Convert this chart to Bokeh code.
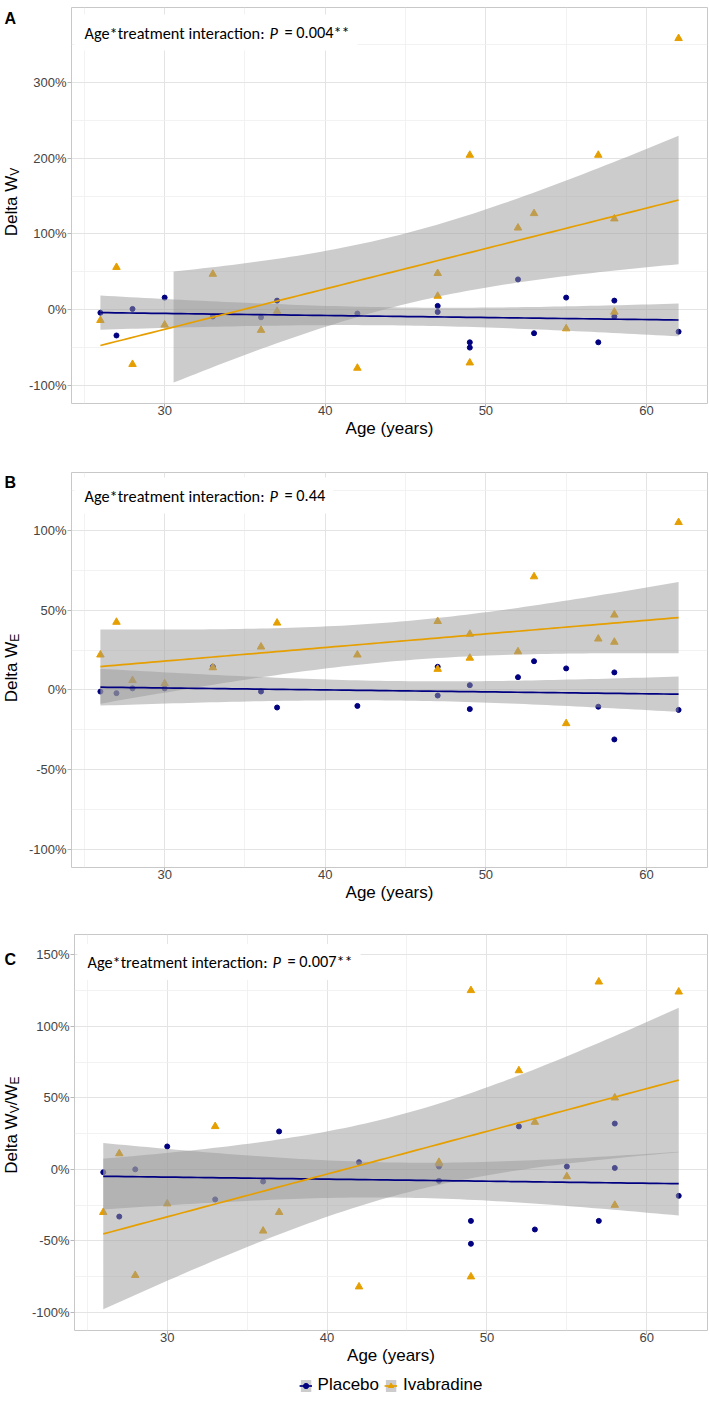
import numpy as np
from bokeh.plotting import figure
from bokeh.layouts import column, row
from bokeh.models import Range1d, FixedTicker, PrintfTickFormatter, Label, Legend, LegendItem
from bokeh.embed import file_html
from bokeh.resources import INLINE

# ---------------- data ----------------
age = [26, 27, 28, 30, 33, 36, 37, 42, 47, 47, 49, 49, 52, 53, 55, 57, 58, 58, 62]

wv_placebo = [-4, -34, 1, 16, -9, -10, 12, -5, 5, -3, -43, -50, 40, -31, 16, -43, 12, -9, -29]
wv_ivabradine = [-14, 56, -72, -20, 47, -27, -2, -77, 48, 18, 204, -70, 108, 127, -25, 204, 120, -3, 358]

we_placebo = [-1, -2, 1, 1, 14.5, -1, -11, -10, 14.5, -3.5, -12, 3, 8, 18, 13.5, -10.5, 11, -31, -12.5]
we_ivabradine = [22, 42.5, 6, 4, 14, 27, 42, 22, 43, 13, 35, 20, 24, 71, -21, 32, 47, 30, 105]

ratio_placebo = [-2, -33, 0, 16, -21, -8.5, 26.5, 5, -8, 2, -36, -52, 30, -42, 2, -36, 1, 32, -18.5]
ratio_ivabradine = [-30, 11, -74, -24, 30, -43, -30, -82, 4, 5, 125, -75, 69, 33, -5, 131, 50, -25, 124]

x_ticks = [30, 40, 50, 60]
x_minor = [25, 35, 45, 55]

p_values = ["0.004**", "0.44", "0.007**"]
group_names = ["Placebo", "Ivabradine"]

NAVY = "#000080"
ORANGE = "#E69F00"
RIBBON = "#999999"
RIB_ALPHA = 0.5
T975 = 2.109816  # Student t 0.975 quantile, df = n - 2 = 17

AXIS_FONT = "Liberation Sans"
ANN_FONT = "Carlito, Lato"
ANN_SIZE = "16.3px"

# Arial / Liberation Sans advance widths (per 1000 em)
AW = {"D": 722, "e": 556, "l": 222, "t": 278, "a": 556, " ": 278, "W": 944,
      "V": 667, "E": 667, "/": 278}

SIDE_W = 24
MAIN_W = 684
TOTAL_W = SIDE_W + MAIN_W


def text_w(s, size):
    return sum(AW[c] for c in s) * size / 1000.0


def lm_band(x, y, grid):
    x = np.asarray(x, float)
    y = np.asarray(y, float)
    n = len(x)
    xm = x.mean()
    sxx = ((x - xm) ** 2).sum()
    b = ((x - xm) * (y - y.mean())).sum() / sxx
    a = y.mean() - b * xm
    resid = y - (a + b * x)
    s = np.sqrt((resid ** 2).sum() / (n - 2))
    fit = a + b * grid
    se = s * np.sqrt(1.0 / n + (grid - xm) ** 2 / sxx)
    return fit, fit - T975 * se, fit + T975 * se


def make_panel(letter, yp, yi, ylim, y_major, y_minor, p_txt, ytitle, height,
               b_left, b_top, b_bottom, ann_rel, letter_rel, title_rel):
    amin, amax = min(age), max(age)
    ex = 0.05 * (amax - amin)
    xr = Range1d(amin - ex, amax + ex)
    ey = 0.05 * (ylim[1] - ylim[0])
    yr = Range1d(ylim[0] - ey, ylim[1] + ey)

    p = figure(width=MAIN_W, height=height, x_range=xr, y_range=yr,
               output_backend="svg", toolbar_location=None,
               min_border_left=b_left, min_border_right=1,
               min_border_top=b_top, min_border_bottom=b_bottom)
    p.background_fill_color = "white"
    p.border_fill_color = "white"
    p.outline_line_color = "#C8C8C8"
    p.outline_line_width = 1

    p.xaxis.ticker = FixedTicker(ticks=x_ticks, minor_ticks=x_minor)
    p.yaxis.ticker = FixedTicker(ticks=y_major, minor_ticks=y_minor)
    p.yaxis.formatter = PrintfTickFormatter(format="%d%%")
    for g in (p.xgrid, p.ygrid):
        g.grid_line_color = "#E4E4E4"
        g.grid_line_width = 1
        g.minor_grid_line_color = "#EFEFEF"
        g.minor_grid_line_width = 0.8
    for ax in (p.xaxis, p.yaxis):
        ax.axis_line_color = None
        ax.major_tick_line_color = "#B8B8B8"
        ax.major_tick_out = 4
        ax.major_tick_in = 0
        ax.minor_tick_line_color = None
        ax.major_label_text_font = AXIS_FONT
        ax.major_label_text_font_size = "13px"
        ax.major_label_text_color = "#444444"
    p.yaxis.major_label_standoff = 1
    p.xaxis.major_label_standoff = -2
    p.xaxis.axis_label = "Age (years)"
    p.xaxis.axis_label_text_font = AXIS_FONT
    p.xaxis.axis_label_text_font_size = "17px"
    p.xaxis.axis_label_text_font_style = "normal"
    p.xaxis.axis_label_text_color = "black"
    p.xaxis.axis_label_standoff = 1

    # points first (confidence ribbons are drawn over them)
    p.scatter(age, yp, marker="circle", size=5, color=NAVY)
    p.scatter(age, yi, marker="triangle", size=7.5, color=ORANGE)

    grid = np.linspace(min(age), max(age), 80)
    fits = []
    for vals in (yp, yi):
        fit, lo, hi = lm_band(age, vals, grid)
        keep = (lo >= ylim[0]) & (hi <= ylim[1])
        p.varea(x=grid[keep], y1=lo[keep], y2=hi[keep], fill_color=RIBBON, fill_alpha=RIB_ALPHA)
        fits.append(fit)
    p.line(grid, fits[0], line_color=NAVY, line_width=1.7)
    p.line(grid, fits[1], line_color=ORANGE, line_width=1.7)

    # annotation on a white box (box label first so the other parts draw above it)
    p.add_layout(Label(x=xr.start, y=yr.end, x_offset=3, y_offset=-ann_rel,
                       text="= " + p_txt, text_font=ANN_FONT, text_font_size=ANN_SIZE,
                       text_color="black", text_align="left", text_baseline="alphabetic",
                       background_fill_color="white",
                       padding=dict(left=210, right=8, top=7, bottom=9)))
    p.add_layout(Label(x=xr.start, y=yr.end, x_offset=193, y_offset=-ann_rel,
                       text="Age*treatment interaction:", text_font=ANN_FONT,
                       text_font_size=ANN_SIZE, text_color="black", text_align="right",
                       text_baseline="alphabetic"))
    p.add_layout(Label(x=xr.start, y=yr.end, x_offset=198, y_offset=-ann_rel,
                       text="P", text_font=ANN_FONT, text_font_size=ANN_SIZE,
                       text_font_style="italic", text_color="black", text_align="left",
                       text_baseline="alphabetic"))

    # narrow strip on the left sharing the panel's y range: letter and rotated y title
    s = figure(width=SIDE_W, height=height, x_range=Range1d(0, SIDE_W), y_range=yr,
               output_backend="svg", toolbar_location=None,
               x_axis_location=None, y_axis_location=None,
               min_border_left=0, min_border_right=0,
               min_border_top=b_top, min_border_bottom=b_bottom)
    s.grid.visible = False
    s.outline_line_color = None
    s.background_fill_color = "white"
    s.border_fill_color = "white"
    s.add_layout(Label(x=4, y=yr.end, y_offset=-letter_rel, text=letter,
                       text_font=AXIS_FONT, text_font_size="16px", text_font_style="bold",
                       text_color="black", text_align="left", text_baseline="alphabetic"))
    pos = title_rel
    for txt, size, sub in ytitle:
        w = text_w(txt, size)
        base_x = 16.7 + (2.2 if sub else 0)
        s.add_layout(Label(x=base_x - 0.34 * size, y=yr.start, y_offset=pos + w / 2,
                           text=txt, angle=np.pi / 2,
                           text_align="center", text_baseline="middle",
                           text_font=AXIS_FONT, text_font_size=f"{size}px",
                           text_color="black"))
        pos += w
    return row(s, p, spacing=0)


rowA = make_panel("A", wv_placebo, wv_ivabradine, (-100, 375),
                  [-100, 0, 100, 200, 300], [-50, 50, 150, 250, 350], p_values[0],
                  [("Delta W", 17, False), ("V", 12, True)],
                  440, 47, 7, 36, 25, 11.3, 167.3)
rowB = make_panel("B", we_placebo, we_ivabradine, (-100, 125),
                  [-100, -50, 0, 50, 100], [-75, -25, 25, 75, 125], p_values[1],
                  [("Delta W", 17, False), ("E", 12, True)],
                  465, 47, 32, 38, 23, 10, 165.3)
rowC = make_panel("C", ratio_placebo, ratio_ivabradine, (-100, 151.5),
                  [-100, -50, 0, 50, 100, 150], [-75, -25, 25, 75, 125], p_values[2],
                  [("Delta W", 17, False), ("V", 12, True), ("/", 17, False),
                   ("W", 17, False), ("E", 12, True)],
                  465, 50, 29, 40, 27.5, 24.5, 156.7)

# legend strip under panel C (its frame spans the same columns as panel C's frame)
pL = figure(width=TOTAL_W, height=32, x_range=Range1d(0, 1), y_range=Range1d(0, 1),
            output_backend="svg", toolbar_location=None, x_axis_location=None,
            y_axis_location=None, min_border_left=SIDE_W + 50, min_border_right=1,
            min_border_top=0, min_border_bottom=0)
pL.grid.visible = False
pL.outline_line_color = None
items = []
nan1 = [np.nan]
for name, col, mk, sz in ((group_names[0], NAVY, "circle", 5), (group_names[1], ORANGE, "triangle", 7.5)):
    r1 = pL.varea(x=nan1, y1=nan1, y2=nan1, fill_color=RIBBON, fill_alpha=RIB_ALPHA)
    r2 = pL.line(x=nan1, y=nan1, line_color=col, line_width=1.7)
    r3 = pL.scatter(x=nan1, y=nan1, marker=mk, size=sz, color=col)
    items.append(LegendItem(label=name, renderers=[r1, r2, r3]))
pL.add_layout(Legend(items=items, orientation="horizontal", location="bottom_center",
                     glyph_width=13, glyph_height=15, label_height=15,
                     label_standoff=6, spacing=5, padding=0, margin=7,
                     border_line_color=None, background_fill_alpha=0,
                     label_text_font=AXIS_FONT, label_text_font_size="17px",
                     label_text_color="black"))

layout = column(rowA, rowB, rowC, pL, spacing=0)
open("out.html", "w").write(file_html(layout, INLINE))
